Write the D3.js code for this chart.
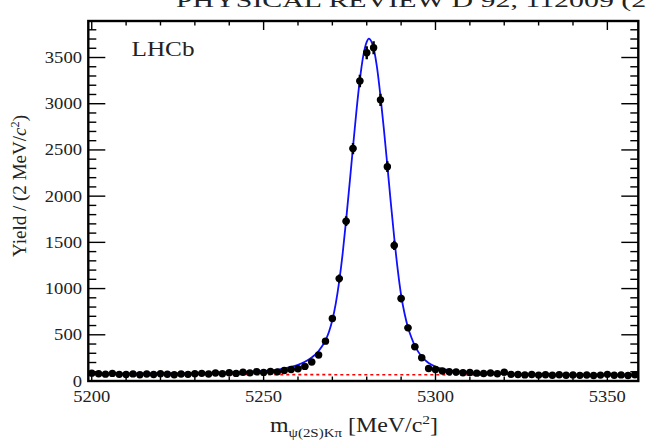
<!DOCTYPE html>
<html><head><meta charset="utf-8">
<script src="https://cdn.jsdelivr.net/npm/d3@7/dist/d3.min.js"></script>
<style>
html,body{margin:0;padding:0;background:#fff;}
svg{display:block;font-family:"Liberation Serif","DejaVu Serif",serif;}
</style></head>
<body>
<svg id="chart" width="645" height="440"></svg>
<script>
// ---- data ----
const binCenters = d3.range(5200, 5360, 2);
const yields = [
  85, 78, 74, 82, 72, 70, 77, 68, 75, 71,
  79, 73, 67, 75, 72, 78, 83, 75, 86, 79,
  90, 82, 94, 88, 100, 93, 104, 99, 114, 124,
  132, 158, 205, 282, 431, 676, 1108, 1729, 2515, 3247,
  3552, 3606, 3042, 2319, 1467, 892, 575, 370, 251, 135,
  125, 108, 100, 97, 90, 93, 85, 81, 87, 79,
  96, 72, 70, 66, 71, 64, 68, 62, 67, 63,
  66, 61, 65, 60, 64, 72, 62, 66, 60, 68
];
const fitMass = [5199,5210,5220,5230,5240,5245,5250,5253,5256,5258,5260,5262,5264,5265,5266,5267,5268,5269,5270,5271,5272,5273,5274,5275,5276,5277,5278,5279,5280,5280.6,5281,5282,5283,5284,5285,5286,5287,5288,5289,5290,5291,5292,5293,5294,5295,5296,5297,5298,5300,5302,5304,5307,5310,5315,5320,5330,5340,5350,5359];
const fitYield = [80,80,82,85,92,98,108,118,135,152,175,208,255,285,325,375,440,530,660,840,1080,1380,1740,2130,2530,2920,3260,3520,3670,3705,3695,3600,3390,3080,2720,2330,1930,1550,1210,930,730,580,470,380,315,265,225,195,155,130,115,100,90,82,76,70,66,63,61];
const bkgMass = [5199, 5359];
const bkgYield = [72, 64];
const xTicks = [5200, 5250, 5300, 5350];
const yTicks = [0, 500, 1000, 1500, 2000, 2500, 3000, 3500];

// ---- layout ----
const L = 88.3, R = 638.3, T = 21, B = 381;
const svg = d3.select("#chart");
const x = d3.scaleLinear().domain([5199, 5359]).range([L, R]);
const y = d3.scaleLinear().domain([0, 3895]).range([B, T]);

// header (cut off at top)
svg.append("text").attr("x", 176).attr("y", 7).attr("font-size", 18)
  .attr("textLength", 525).attr("lengthAdjust", "spacingAndGlyphs")
  .attr("fill", "#222").text("PHYSICAL REVIEW D 92, 112009 (2015)");

const g = svg.append("g");
const clip = svg.append("clipPath").attr("id", "clip").append("rect")
  .attr("x", L).attr("y", T).attr("width", R - L).attr("height", B - T);
const plot = g.append("g").attr("clip-path", "url(#clip)");

// background dashed
plot.append("path")
  .datum(bkgMass.map((m, i) => [m, bkgYield[i]]))
  .attr("d", d3.line().x(d => x(d[0])).y(d => y(d[1])))
  .attr("fill", "none").attr("stroke", "#ff0000").attr("stroke-width", 1.6)
  .attr("stroke-dasharray", "3,3");

// fit curve
plot.append("path")
  .datum(fitMass.map((m, i) => [m, fitYield[i]]))
  .attr("d", d3.line().curve(d3.curveMonotoneX).x(d => x(d[0])).y(d => y(d[1])))
  .attr("fill", "none").attr("stroke", "#1010ff").attr("stroke-width", 1.8);

// data points
const pts = plot.append("g");
binCenters.forEach((m, i) => {
  const v = yields[i], e = Math.sqrt(v);
  pts.append("line").attr("x1", x(m)).attr("x2", x(m)).attr("y1", y(v - e) + 1).attr("y2", y(v + e) - 1)
    .attr("stroke", "#000").attr("stroke-width", 2.4);
  pts.append("line").attr("x1", x(m - 1)).attr("x2", x(m + 1)).attr("y1", y(v)).attr("y2", y(v))
    .attr("stroke", "#000").attr("stroke-width", 2.4);
  pts.append("circle").attr("cx", x(m)).attr("cy", y(v)).attr("r", 3.7).attr("fill", "#000");
});

// ticks
const ax = g.append("g").attr("stroke", "#000").attr("stroke-width", 1.4);
d3.range(5200, 5359, 10).forEach(v => {
  const major = v % 50 === 0;
  const len = major ? 9 : 4.5;
  ax.append("line").attr("x1", x(v)).attr("x2", x(v)).attr("y1", B).attr("y2", B - len);
  ax.append("line").attr("x1", x(v)).attr("x2", x(v)).attr("y1", T).attr("y2", T + len);
});
d3.range(0, 3895, 100).forEach(v => {
  const major = v % 500 === 0;
  const len = major ? 17 : 8;
  ax.append("line").attr("x1", L).attr("x2", L + len).attr("y1", y(v)).attr("y2", y(v));
  ax.append("line").attr("x1", R).attr("x2", R - len).attr("y1", y(v)).attr("y2", y(v));
});

// frame
g.append("rect").attr("x", L).attr("y", T).attr("width", R - L).attr("height", B - T)
  .attr("fill", "none").attr("stroke", "#000").attr("stroke-width", 2.4);

// tick labels
xTicks.forEach(v => {
  g.append("text").attr("x", x(v)).attr("y", 402).attr("text-anchor", "middle")
    .attr("font-size", 16.5).attr("fill", "#222")
    .attr("textLength", 37).attr("lengthAdjust", "spacingAndGlyphs").text(v);
});
yTicks.forEach(v => {
  const s = String(v);
  g.append("text").attr("x", 82).attr("y", y(v) + 5.5).attr("text-anchor", "end")
    .attr("font-size", 16.5).attr("fill", "#222")
    .attr("textLength", 9.3 * s.length).attr("lengthAdjust", "spacingAndGlyphs").text(s);
});

// axis titles
const yt = g.append("text").attr("transform", "translate(26,186) rotate(-90)")
  .attr("text-anchor", "middle").attr("font-size", 18.5).attr("fill", "#222")
  .attr("textLength", 142).attr("lengthAdjust", "spacingAndGlyphs");
yt.append("tspan").text("Yield / (2 MeV/");
yt.append("tspan").attr("font-style", "italic").text("c");
yt.append("tspan").attr("font-size", 12).attr("dy", -7).text("2");
yt.append("tspan").attr("dy", 7).text(")");

const xt = g.append("text").attr("x", 270).attr("y", 432).attr("font-size", 20).attr("fill", "#222")
  .attr("textLength", 168).attr("lengthAdjust", "spacingAndGlyphs");
xt.append("tspan").text("m");
xt.append("tspan").attr("font-size", 12.5).attr("dy", 5).text("ψ(2S)Kπ");
xt.append("tspan").attr("dy", -5).text(" [MeV/c");
xt.append("tspan").attr("font-size", 13).attr("dy", -8).text("2");
xt.append("tspan").attr("dy", 8).text("]");

// LHCb
g.append("text").attr("x", 131.5).attr("y", 56).attr("font-size", 22).attr("fill", "#222")
  .attr("textLength", 63).attr("lengthAdjust", "spacingAndGlyphs").text("LHCb");
</script>
</body></html>
